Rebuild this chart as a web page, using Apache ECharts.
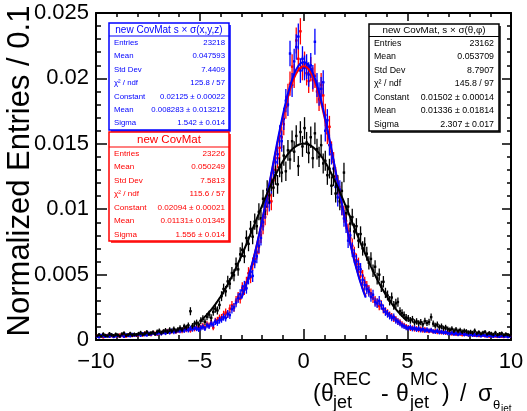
<!DOCTYPE html>
<html>
<head>
<meta charset="utf-8">
<script src="https://cdn.jsdelivr.net/npm/echarts@6/dist/echarts.min.js"></script>
<style>
  html, body { margin: 0; padding: 0; background: #fff; }
  #chart { width: 527px; height: 411px; }
</style>
</head>
<body>
<div id="chart"></div>
<script>
// Binning: 200 bins of width 0.1 between -10 and 10
const binLow = -10;
const binWidth = 0.1;

const xTickLabels = ['\u221210', '\u22125', '0', '5', '10'];
const yTickLabels = ['0', '0.005', '0.01', '0.015', '0.02', '0.025'];

// Normalized bin contents, new CovMat with s x sigma(x,y,z)
const xyzValues = [
  0.00028, 0.00022, 0.00035, 0.00030, 0.00025, 0.00033, 0.00027, 0.00038, 0.00024, 0.00031,
  0.00034, 0.00029, 0.00037, 0.00026, 0.00040, 0.00033, 0.00031, 0.00042, 0.00036, 0.00039,
  0.00043, 0.00035, 0.00047, 0.00041, 0.00038, 0.00050, 0.00044, 0.00053, 0.00046, 0.00049,
  0.00055, 0.00048, 0.00060, 0.00052, 0.00064, 0.00057, 0.00070, 0.00061, 0.00067, 0.00073,
  0.00068, 0.00078, 0.00072, 0.00085, 0.00075, 0.00090, 0.00082, 0.00094, 0.00087, 0.00080,
  0.00092, 0.00100, 0.00088, 0.00112, 0.00105, 0.00125, 0.00118, 0.00140, 0.00132, 0.00150,
  0.00158, 0.00175, 0.00168, 0.00200, 0.00190, 0.00235, 0.00250, 0.00285, 0.00320, 0.00350,
  0.00380, 0.00410, 0.00395, 0.00470, 0.00520, 0.00490, 0.00600, 0.00640, 0.00720, 0.00780,
  0.00900, 0.00990, 0.01080, 0.01050, 0.01190, 0.01280, 0.01360, 0.01420, 0.01560, 0.01520,
  0.01690, 0.01830, 0.01800, 0.02190, 0.01950, 0.02130, 0.02240, 0.02320, 0.02060, 0.02150,
  0.02080, 0.02090, 0.02030, 0.02100, 0.02010, 0.02280, 0.01950, 0.01880, 0.01920, 0.01970,
  0.01600, 0.01680, 0.01490, 0.01420, 0.01310, 0.01170, 0.01090, 0.01150, 0.01020, 0.00930,
  0.00880, 0.00760, 0.00800, 0.00690, 0.00640, 0.00600, 0.00560, 0.00540, 0.00460, 0.00420,
  0.00390, 0.00370, 0.00330, 0.00345, 0.00290, 0.00280, 0.00300, 0.00265, 0.00240, 0.00215,
  0.00200, 0.00185, 0.00170, 0.00175, 0.00150, 0.00140, 0.00128, 0.00112, 0.00105, 0.00095,
  0.00090, 0.00098, 0.00085, 0.00092, 0.00080, 0.00088, 0.00076, 0.00083, 0.00072, 0.00079,
  0.00070, 0.00075, 0.00066, 0.00062, 0.00071, 0.00058, 0.00064, 0.00055, 0.00060, 0.00052,
  0.00049, 0.00056, 0.00045, 0.00051, 0.00042, 0.00048, 0.00053, 0.00040, 0.00046, 0.00038,
  0.00043, 0.00036, 0.00041, 0.00033, 0.00039, 0.00030, 0.00037, 0.00034, 0.00028, 0.00035,
  0.00031, 0.00027, 0.00034, 0.00029, 0.00025, 0.00032, 0.00026, 0.00030, 0.00023, 0.00028
];

// Normalized bin contents, new CovMat
const covMatValues = [
  0.00031, 0.00026, 0.00034, 0.00022, 0.00029, 0.00036, 0.00027, 0.00032, 0.00025, 0.00035,
  0.00030, 0.00038, 0.00033, 0.00041, 0.00028, 0.00036, 0.00044, 0.00032, 0.00039, 0.00035,
  0.00040, 0.00046, 0.00038, 0.00052, 0.00043, 0.00048, 0.00041, 0.00055, 0.00050, 0.00045,
  0.00058, 0.00051, 0.00062, 0.00056, 0.00068, 0.00060, 0.00066, 0.00074, 0.00063, 0.00070,
  0.00076, 0.00069, 0.00082, 0.00078, 0.00088, 0.00074, 0.00092, 0.00085, 0.00097, 0.00089,
  0.00098, 0.00108, 0.00095, 0.00120, 0.00112, 0.00132, 0.00095, 0.00145, 0.00152, 0.00168,
  0.00172, 0.00195, 0.00210, 0.00198, 0.00240, 0.00265, 0.00248, 0.00300, 0.00330, 0.00315,
  0.00400, 0.00385, 0.00440, 0.00510, 0.00480, 0.00580, 0.00620, 0.00670, 0.00710, 0.00800,
  0.00870, 0.00940, 0.01020, 0.01100, 0.01060, 0.01220, 0.01300, 0.01390, 0.01470, 0.01550,
  0.01650, 0.01780, 0.01870, 0.01960, 0.02090, 0.02020, 0.02290, 0.02150, 0.02360, 0.02080,
  0.02110, 0.02040, 0.01980, 0.02070, 0.01990, 0.02020, 0.01900, 0.01840, 0.01950, 0.01870,
  0.01720, 0.01580, 0.01630, 0.01440, 0.01360, 0.01250, 0.01180, 0.01110, 0.01020, 0.00960,
  0.00910, 0.00830, 0.00780, 0.00720, 0.00660, 0.00610, 0.00580, 0.00520, 0.00490, 0.00440,
  0.00410, 0.00380, 0.00355, 0.00320, 0.00300, 0.00285, 0.00260, 0.00270, 0.00235, 0.00220,
  0.00205, 0.00190, 0.00178, 0.00165, 0.00158, 0.00142, 0.00135, 0.00120, 0.00110, 0.00102,
  0.00095, 0.00088, 0.00092, 0.00083, 0.00087, 0.00078, 0.00084, 0.00074, 0.00080, 0.00071,
  0.00068, 0.00073, 0.00064, 0.00069, 0.00060, 0.00066, 0.00057, 0.00062, 0.00054, 0.00059,
  0.00052, 0.00047, 0.00055, 0.00044, 0.00050, 0.00046, 0.00041, 0.00048, 0.00043, 0.00039,
  0.00045, 0.00038, 0.00035, 0.00042, 0.00032, 0.00040, 0.00036, 0.00031, 0.00037, 0.00029,
  0.00033, 0.00028, 0.00030, 0.00025, 0.00032, 0.00027, 0.00024, 0.00031, 0.00026, 0.00029
];

// Normalized bin contents, new CovMat with s x sigma(theta,phi)
const thetaPhiValues = [
  0.00032, 0.00041, 0.00028, 0.00045, 0.00036, 0.00030, 0.00047, 0.00039, 0.00034, 0.00043,
  0.00038, 0.00029, 0.00046, 0.00052, 0.00035, 0.00041, 0.00049, 0.00037, 0.00044, 0.00040,
  0.00048, 0.00055, 0.00042, 0.00050, 0.00061, 0.00045, 0.00053, 0.00058, 0.00047, 0.00064,
  0.00070, 0.00056, 0.00066, 0.00074, 0.00062, 0.00079, 0.00068, 0.00085, 0.00072, 0.00081,
  0.00092, 0.00081, 0.00104, 0.00097, 0.00112, 0.00220, 0.00108, 0.00125, 0.00132, 0.00118,
  0.00148, 0.00162, 0.00139, 0.00178, 0.00195, 0.00170, 0.00215, 0.00240, 0.00226, 0.00268,
  0.00335, 0.00390, 0.00372, 0.00448, 0.00431, 0.00512, 0.00495, 0.00580, 0.00540, 0.00655,
  0.00690, 0.00640, 0.00780, 0.00735, 0.00850, 0.00790, 0.00905, 0.00870, 0.00980, 0.00930,
  0.01080, 0.01020, 0.01150, 0.01110, 0.01210, 0.01165, 0.01260, 0.01190, 0.01320, 0.01280,
  0.01410, 0.01290, 0.01450, 0.01380, 0.01520, 0.01440, 0.01560, 0.01330, 0.01590, 0.01480,
  0.01620, 0.01510, 0.01430, 0.01550, 0.01390, 0.01580, 0.01460, 0.01400, 0.01490, 0.01350,
  0.01370, 0.01260, 0.01310, 0.01180, 0.01250, 0.01120, 0.01190, 0.01060, 0.01140, 0.01280,
  0.00970, 0.01020, 0.00890, 0.00940, 0.00830, 0.00870, 0.00760, 0.00810, 0.00700, 0.00730,
  0.00660, 0.00590, 0.00620, 0.00530, 0.00560, 0.00470, 0.00500, 0.00410, 0.00445, 0.00360,
  0.00340, 0.00300, 0.00325, 0.00265, 0.00280, 0.00290, 0.00220, 0.00205, 0.00190, 0.00172,
  0.00165, 0.00150, 0.00158, 0.00135, 0.00142, 0.00128, 0.00137, 0.00120, 0.00145, 0.00130,
  0.00138, 0.00175, 0.00125, 0.00110, 0.00118, 0.00098, 0.00105, 0.00090, 0.00096, 0.00084,
  0.00078, 0.00086, 0.00072, 0.00080, 0.00068, 0.00075, 0.00063, 0.00070, 0.00066, 0.00058,
  0.00062, 0.00055, 0.00070, 0.00052, 0.00059, 0.00048, 0.00056, 0.00061, 0.00046, 0.00053,
  0.00049, 0.00042, 0.00055, 0.00040, 0.00047, 0.00051, 0.00038, 0.00045, 0.00041, 0.00036
];

// Entries of each histogram (for Poisson errors of the normalized contents)
const xyzEntries = 23218;
const covMatEntries = 23226;
const thetaPhiEntries = 23162;

// Gaussian fit results [constant, mean, sigma] and fit ranges
const xyzFit = [0.02125, 0.008283, 1.542];
const covMatFit = [0.02094, 0.01131, 1.556];
const thetaPhiFit = [0.01502, 0.01336, 2.307];
const xyzFitRange = [-3, 3];
const covMatFitRange = [-3, 3];
const thetaPhiFitRange = [-5, 5];

// Statistics box contents
const xyzTitle = 'new CovMat s \u00d7 \u03c3(x,y,z)';
const xyzStats = [
  ['Entries', '23218'], ['Mean', '0.047593'], ['Std Dev', '7.4409'],
  ['\u03c7\u00b2 / ndf', '125.8 / 57'], ['Constant', '0.02125 \u00b1 0.00022'],
  ['Mean', '0.008283 \u00b1 0.013212'], ['Sigma', '1.542 \u00b1 0.014']
];
const covMatTitle = 'new CovMat';
const covMatStats = [
  ['Entries', '23226'], ['Mean', '0.050249'], ['Std Dev', '7.5813'],
  ['\u03c7\u00b2 / ndf', '115.6 / 57'], ['Constant', '0.02094 \u00b1 0.00021'],
  ['Mean', '0.01131\u00b1 0.01345'], ['Sigma', '1.556 \u00b1 0.014']
];
const thetaPhiTitle = 'new CovMat, s \u00d7 \u03c3(\u03b8,\u03c6)';
const thetaPhiStats = [
  ['Entries', '23162'], ['Mean', '0.053709'], ['Std Dev', '8.7907'],
  ['\u03c7\u00b2 / ndf', '145.8 / 97'], ['Constant', '0.01502 \u00b1 0.00014'],
  ['Mean', '0.01336 \u00b1 0.01814'], ['Sigma', '2.307 \u00b1 0.017']
];

const FONT = '"Liberation Sans", Arial, Helvetica, sans-serif';
const BLUE = '#0000ff', RED = '#ff0000', BLACK = '#000000';

function histPoints(values, entries) {
  return values.map((v, i) => [binLow + (i + 0.5) * binWidth, v, Math.sqrt(v / entries)]);
}

function gaussCurve(fit, range) {
  const pts = [];
  const n = 120;
  for (let k = 0; k <= n; k++) {
    const x = range[0] + (range[1] - range[0]) * k / n;
    const d = (x - fit[1]) / fit[2];
    pts.push([x, fit[0] * Math.exp(-0.5 * d * d)]);
  }
  return pts;
}

function errorBars(color) {
  return function (params, api) {
    const x = api.value(0), v = api.value(1), e = api.value(2);
    const c = api.coord([x, v]);
    const hi = api.coord([x, v + e]);
    const lo = api.coord([x, v - e]);
    const l = api.coord([x - binWidth / 2, v]);
    const r = api.coord([x + binWidth / 2, v]);
    return {
      type: 'group',
      children: [
        { type: 'line', shape: { x1: c[0], y1: hi[1], x2: c[0], y2: lo[1] },
          style: { stroke: color, lineWidth: 1.3 } },
        { type: 'line', shape: { x1: l[0], y1: c[1], x2: r[0], y2: c[1] },
          style: { stroke: color, lineWidth: 1.3 } },
        { type: 'rect', shape: { x: c[0] - 1.2, y: c[1] - 1.2, width: 2.4, height: 2.4 },
          style: { fill: color } }
      ]
    };
  };
}

function histSeries(name, values, entries, color) {
  return {
    name: name,
    type: 'custom',
    renderItem: errorBars(color),
    data: histPoints(values, entries),
    encode: { x: 0, y: 1 },
    silent: true
  };
}

function fitSeries(name, fit, range, color) {
  return {
    name: name,
    type: 'line',
    data: gaussCurve(fit, range),
    showSymbol: false,
    smooth: false,
    lineStyle: { color: color, width: 2 },
    silent: true
  };
}

function statBox(b) {
  const els = [];
  const w = b.right - b.left, h = b.bottom - b.top;
  // shadow
  els.push({ type: 'polyline', z: 100,
    shape: { points: [[b.left + 2, b.bottom + 1], [b.right + 1, b.bottom + 1], [b.right + 1, b.top + 2]] },
    style: { stroke: b.color, lineWidth: 1.5, fill: null } });
  els.push({ type: 'rect', z: 100, shape: { x: b.left, y: b.top, width: w, height: h },
    style: { fill: '#fff', stroke: b.color, lineWidth: 1.5 } });
  els.push({ type: 'line', z: 101, shape: { x1: b.left, y1: b.sep, x2: b.right, y2: b.sep },
    style: { stroke: b.color, lineWidth: 1.2 } });
  els.push({ type: 'text', z: 101, x: (b.left + b.right) / 2, y: (b.top + b.sep) / 2 + 0.5,
    style: { text: b.title, fill: b.color, fontSize: b.titleSize, fontFamily: FONT,
      align: 'center', verticalAlign: 'middle' } });
  const rowH = (b.bottom - b.sep) / b.rows.length;
  b.rows.forEach((row, i) => {
    const y = b.sep + rowH * (i + 0.5);
    els.push({ type: 'text', z: 101, x: b.labelX, y: y,
      style: { text: row[0], fill: b.color, fontSize: b.rowSize, fontFamily: FONT,
        align: 'left', verticalAlign: 'middle' } });
    els.push({ type: 'text', z: 101, x: b.valueX, y: y,
      style: { text: row[1], fill: b.color, fontSize: b.rowSize, fontFamily: FONT,
        align: 'right', verticalAlign: 'middle' } });
  });
  return els;
}

// x axis title: (theta_jet^REC - theta_jet^MC) / sigma_theta_jet
function titlePiece(text, x, y, size) {
  return { type: 'text', z: 100, x: x, y: y,
    style: { text: text, fill: BLACK, fontSize: size, fontFamily: FONT,
      align: 'left', verticalAlign: 'middle' } };
}
const xTitle = [
  titlePiece('(', 313, 395, 23),
  titlePiece('\u03b8', 321, 395, 23),
  titlePiece('REC', 333, 380, 18),
  titlePiece('jet', 333, 403, 18),
  titlePiece('-', 381, 395, 23),
  titlePiece('\u03b8', 396, 395, 23),
  titlePiece('MC', 410, 380, 18),
  titlePiece('jet', 410, 403, 18),
  titlePiece(')', 442, 395, 23),
  titlePiece('/', 460, 395, 23),
  titlePiece('\u03c3', 478, 395, 23),
  titlePiece('\u03b8', 493, 405, 13),
  titlePiece('jet', 501, 409, 10)
];

const yTitle = { type: 'text', z: 100, x: 20, y: 171, rotation: Math.PI / 2,
  style: { text: 'Normalized Entries / 0.1', fill: BLACK, fontSize: 31, fontFamily: FONT,
    align: 'center', verticalAlign: 'middle' } };

const axisLineStyle = { color: BLACK, width: 2 };

const chart = echarts.init(document.getElementById('chart'), null, { renderer: 'canvas' });
chart.setOption({
  animation: false,
  backgroundColor: '#fff',
  grid: { left: 96, right: 16, top: 13, bottom: 71, containLabel: false },
  xAxis: [
    {
      type: 'value', position: 'bottom', min: -10, max: 10, interval: 5,
      axisLine: { show: true, onZero: false, lineStyle: axisLineStyle },
      axisTick: { show: true, inside: true, length: 11, lineStyle: { color: BLACK, width: 1.5 } },
      minorTick: { show: true, splitNumber: 5, length: 5, lineStyle: { color: BLACK, width: 1.5 } },
      splitLine: { show: false },
      axisLabel: { show: true, margin: 11, color: BLACK, fontSize: 22, fontFamily: FONT,
        formatter: (v, i) => xTickLabels[i] }
    },
    {
      type: 'value', position: 'top', min: -10, max: 10, interval: 5,
      axisLine: { show: true, onZero: false, lineStyle: axisLineStyle },
      axisTick: { show: true, inside: true, length: 8, lineStyle: { color: BLACK, width: 1.5 } },
      minorTick: { show: true, splitNumber: 5, length: 4, lineStyle: { color: BLACK, width: 1.5 } },
      splitLine: { show: false },
      axisLabel: { show: false }
    }
  ],
  yAxis: [
    {
      type: 'value', position: 'left', min: 0, max: 0.025, interval: 0.005,
      axisLine: { show: true, onZero: false, lineStyle: axisLineStyle },
      axisTick: { show: true, inside: true, length: 11, lineStyle: { color: BLACK, width: 1.5 } },
      minorTick: { show: true, splitNumber: 5, length: 5, lineStyle: { color: BLACK, width: 1.5 } },
      splitLine: { show: false },
      axisLabel: { show: true, margin: 7, color: BLACK, fontSize: 22, fontFamily: FONT,
        formatter: (v, i) => yTickLabels[i] }
    },
    {
      type: 'value', position: 'right', min: 0, max: 0.025, interval: 0.005,
      axisLine: { show: true, onZero: false, lineStyle: axisLineStyle },
      axisTick: { show: true, inside: true, length: 9, lineStyle: { color: BLACK, width: 1.5 } },
      minorTick: { show: true, splitNumber: 5, length: 4, lineStyle: { color: BLACK, width: 1.5 } },
      splitLine: { show: false },
      axisLabel: { show: false }
    }
  ],
  series: [
    histSeries('new CovMat', covMatValues, covMatEntries, RED),
    fitSeries('new CovMat fit', covMatFit, covMatFitRange, RED),
    histSeries('new CovMat s x sigma(x,y,z)', xyzValues, xyzEntries, BLUE),
    fitSeries('new CovMat s x sigma(x,y,z) fit', xyzFit, xyzFitRange, BLUE),
    histSeries('new CovMat, s x sigma(theta,phi)', thetaPhiValues, thetaPhiEntries, BLACK),
    fitSeries('new CovMat, s x sigma(theta,phi) fit', thetaPhiFit, thetaPhiFitRange, BLACK)
  ],
  graphic: [
    ...statBox({ left: 109, right: 229, top: 23, bottom: 130, sep: 36, color: BLUE,
      title: xyzTitle, titleSize: 10, rows: xyzStats, rowSize: 7.8, labelX: 114, valueX: 225 }),
    ...statBox({ left: 109, right: 229, top: 132, bottom: 241, sep: 147, color: RED,
      title: covMatTitle, titleSize: 11.5, rows: covMatStats, rowSize: 8.1, labelX: 114, valueX: 225 }),
    ...statBox({ left: 369, right: 499, top: 24, bottom: 131, sep: 36.5, color: BLACK,
      title: thetaPhiTitle, titleSize: 9.8, rows: thetaPhiStats, rowSize: 8.8, labelX: 374, valueX: 494 }),
    yTitle,
    ...xTitle
  ]
});
</script>
</body>
</html>
